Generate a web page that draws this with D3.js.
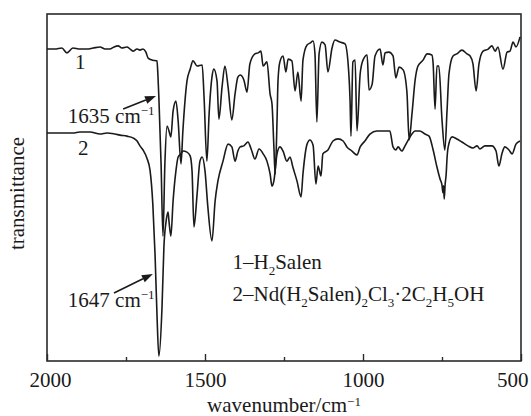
<!DOCTYPE html>
<html>
<head>
<meta charset="utf-8">
<script src="https://cdn.jsdelivr.net/npm/d3@7"></script>
<style>
  html, body { margin: 0; padding: 0; background: #fff; }
  svg { display: block; }
  text { font-family: "Liberation Serif", "Times New Roman", serif; fill: #1a1a1a; }
</style>
</head>
<body>
<svg id="chart" width="531" height="416"></svg>
<script>
// ---------- data (wavenumber cm^-1, transmittance a.u. %) ----------
const majorTicks = [2000, 1500, 1000, 500];
const minorTicks = [1750, 1250, 750];

// Curve 1: H2Salen
const curveH2Salen = [
  [2000,89.9],[1975,89.9],[1953,90.2],[1937,88.8],[1918,90.2],[1896,89.9],[1873,89.9],
  [1854,90.2],[1832,90.5],[1816,89.9],[1801,89.9],[1788,90.5],[1775,90.8],[1763,90.2],
  [1747,90.5],[1737,89.9],[1728,89.3],[1715,89.9],[1706,89.6],[1696,89.9],[1687,89.0],
  [1680,87.3],[1665,86.7],[1652,86.5],[1649,82.4],[1646,76.1],[1639,56.8],[1633,36.0],
  [1627,56.8],[1620,67.7],[1614,66.3],[1608,64.6],[1601,72.0],[1592,74.9],[1585,69.2],
  [1576,56.8],[1570,66.3],[1557,80.7],[1547,84.1],[1538,86.5],[1525,85.0],[1509,85.3],
  [1503,76.1],[1494,57.6],[1487,71.2],[1478,81.8],[1472,84.1],[1462,80.7],[1456,69.7],
  [1446,79.0],[1437,85.0],[1427,79.0],[1415,69.5],[1405,76.9],[1396,81.8],[1389,82.4],
  [1377,81.0],[1367,77.5],[1358,85.6],[1342,88.5],[1332,88.8],[1323,89.3],[1316,85.0],
  [1304,86.2],[1294,76.9],[1288,74.1],[1282,61.7],[1278,53.9],[1272,69.5],[1269,80.7],
  [1263,86.2],[1253,87.9],[1244,83.3],[1237,87.0],[1225,86.5],[1215,77.8],[1206,83.3],
  [1196,74.9],[1190,86.7],[1177,91.1],[1168,91.6],[1158,92.2],[1152,88.5],[1146,68.9],
  [1139,88.5],[1130,91.9],[1120,91.1],[1111,83.3],[1098,90.2],[1089,92.5],[1073,91.9],
  [1057,91.4],[1047,85.6],[1041,75.2],[1038,64.8],[1032,86.2],[1025,86.7],[1019,66.3],
  [1009,82.7],[1000,86.7],[987,88.2],[981,78.1],[971,79.8],[962,87.9],[946,89.9],
  [937,85.3],[930,88.8],[918,89.0],[905,87.9],[896,81.6],[886,84.7],[873,83.9],
  [861,77.5],[854,63.7],[845,71.2],[835,81.0],[826,85.0],[810,86.7],[797,88.5],
  [782,88.2],[778,85.6],[772,72.6],[766,85.0],[760,85.0],[750,69.5],[741,60.8],
  [734,72.3],[728,82.7],[715,87.9],[703,88.5],[687,89.6],[671,88.5],[661,87.9],
  [652,85.6],[642,77.8],[633,85.6],[620,89.3],[604,89.9],[592,90.8],[582,89.3],
  [573,90.5],[557,84.1],[544,89.0],[535,89.3],[525,91.9],[516,90.5],[503,93.4]
];

// Curve 2: Nd(H2Salen)2Cl3·2C2H5OH
const curveNdComplex = [
  [2000,65.7],[1959,65.7],[1918,65.7],[1896,66.0],[1864,66.0],[1832,65.4],[1810,65.7],
  [1785,65.4],[1769,65.1],[1747,64.8],[1728,64.3],[1715,63.4],[1706,62.0],[1696,60.8],
  [1684,58.5],[1674,55.0],[1665,45.0],[1658,30.5],[1652,13.5],[1646,1.4],[1636,15.6],
  [1630,32.9],[1623,40.3],[1617,42.9],[1614,40.3],[1608,36.0],[1601,46.1],[1592,54.8],
  [1585,58.8],[1576,59.7],[1570,60.5],[1557,60.2],[1547,59.1],[1541,54.8],[1535,38.6],
  [1525,48.1],[1516,57.6],[1509,58.8],[1500,54.8],[1491,44.4],[1478,34.6],[1468,46.1],
  [1459,51.9],[1443,57.6],[1427,62.5],[1415,61.7],[1405,57.6],[1396,60.5],[1389,61.7],
  [1377,62.0],[1364,63.1],[1354,61.1],[1342,58.2],[1329,61.1],[1316,59.7],[1304,57.6],
  [1294,53.9],[1288,50.4],[1282,51.9],[1272,59.7],[1263,61.7],[1253,60.5],[1241,57.6],
  [1231,58.8],[1222,55.9],[1209,51.9],[1196,47.3],[1190,53.9],[1177,62.5],[1168,63.7],
  [1158,62.2],[1149,51.0],[1142,56.2],[1133,53.3],[1127,59.7],[1111,60.8],[1095,63.4],
  [1079,64.0],[1063,63.4],[1051,61.7],[1035,60.5],[1019,59.4],[1009,61.7],[994,63.4],
  [978,65.4],[956,66.3],[937,66.3],[915,66.3],[905,61.7],[896,60.8],[889,61.7],
  [877,60.5],[867,62.0],[851,64.6],[835,66.3],[820,66.3],[804,65.4],[791,64.8],
  [778,60.8],[766,55.9],[756,52.4],[750,50.7],[747,48.5],[745,50.5],[743,46.7],
  [740,51.0],[737,53.6],[734,58.5],[731,61.4],[718,64.6],[703,64.0],[687,63.1],
  [668,62.0],[652,61.4],[639,62.0],[630,61.1],[614,62.0],[592,62.0],[579,60.5],
  [570,56.2],[560,59.9],[551,61.7],[538,60.8],[528,59.7],[516,62.5],[503,63.4]
];

// annotation arrows: [tail, tip] in (wavenumber, transmittance)
const arrow1635 = [[1759, 72.6], [1655, 76.4]];
const arrow1647 = [[1788, 19.6], [1665, 25.1]];

// ---------- layout ----------
const svg = d3.select("#chart");
const L = 47, R = 521, T = 14, B = 361;
const x = d3.scaleLinear().domain([2000, 500]).range([L, R]);
const y = d3.scaleLinear().domain([0, 100]).range([B, T]);
const ink = "#1a1a1a";
const FS = 21;

// frame
svg.append("rect")
  .attr("x", L).attr("y", T).attr("width", R - L).attr("height", B - T)
  .attr("fill", "none").attr("stroke", "#2a2a2a").attr("stroke-width", 1.6);

// bottom axis: major ticks (inward) with labels
const gx = svg.append("g").attr("transform", `translate(0,${B})`)
  .call(d3.axisBottom(x).tickValues(majorTicks).tickSizeInner(-7).tickSizeOuter(0)
        .tickPadding(11).tickFormat(d3.format("d")));
gx.select(".domain").remove();
gx.selectAll(".tick line").attr("stroke", "#2a2a2a").attr("stroke-width", 1.4);
gx.selectAll(".tick text").attr("font-size", FS).attr("font-family", null).attr("fill", ink);
gx.selectAll(".tick text").filter(d => d === 500).attr("text-anchor", "end").attr("x", 7);
gx.selectAll(".tick text").filter(d => d === 2000).attr("x", 3);

const gm = svg.append("g").attr("transform", `translate(0,${B})`)
  .call(d3.axisBottom(x).tickValues(minorTicks).tickSizeInner(-4).tickSizeOuter(0).tickFormat(""));
gm.select(".domain").remove();
gm.selectAll(".tick line").attr("stroke", "#2a2a2a").attr("stroke-width", 1.4);

// curves
const line = d3.line().x(d => x(d[0])).y(d => y(d[1])).curve(d3.curveMonotoneX);
[curveH2Salen, curveNdComplex].forEach(c => {
  svg.append("path").datum(c).attr("d", line)
    .attr("fill", "none").attr("stroke", ink).attr("stroke-width", 1.6)
    .attr("stroke-linejoin", "round");
});

// rich text helper
function rich(sel, parts, size, supRaise) {
  const small = Math.round(size * 0.62);
  let shift = 0;
  parts.forEach(([txt, kind]) => {
    let target = kind === "sub" ? size * 0.28 : kind === "sup" ? -size * (supRaise || 0.38) : 0;
    sel.append("tspan")
      .attr("dy", target - shift)
      .attr("font-size", kind === "n" ? size : small)
      .text(txt);
    shift = target;
  });
}

// axis titles
const xt = svg.append("text").attr("x", (L + R) / 2).attr("y", 412)
  .attr("text-anchor", "middle").attr("font-size", FS);
rich(xt, [["wavenumber/cm", "n"], ["\u22121", "sup"]], FS, 0.3);

svg.append("text").attr("transform", `translate(24,${(T + B) / 2 + 6}) rotate(-90)`)
  .attr("text-anchor", "middle").attr("font-size", FS).text("transmittance");

// curve labels
svg.append("text").attr("x", x(1895)).attr("y", y(84.1)).attr("text-anchor", "middle")
  .attr("font-size", FS).text("1");
svg.append("text").attr("x", x(1885)).attr("y", y(59.4)).attr("text-anchor", "middle")
  .attr("font-size", FS).text("2");

// annotations
const a1 = svg.append("text").attr("x", x(1934)).attr("y", y(68.6)).attr("font-size", FS);
rich(a1, [["1635 cm", "n"], ["\u22121", "sup"]], FS);
const a2 = svg.append("text").attr("x", x(1934)).attr("y", y(15.6)).attr("font-size", FS);
rich(a2, [["1647 cm", "n"], ["\u22121", "sup"]], FS);

function arrow(a) {
  const [x0, y0] = [x(a[0][0]), y(a[0][1])];
  const [x1, y1] = [x(a[1][0]), y(a[1][1])];
  const ang = Math.atan2(y1 - y0, x1 - x0);
  const hl = 11, hw = 4;
  const bx = x1 - hl * Math.cos(ang), by = y1 - hl * Math.sin(ang);
  svg.append("line").attr("x1", x0).attr("y1", y0).attr("x2", bx).attr("y2", by)
    .attr("stroke", ink).attr("stroke-width", 1.6);
  const px = -Math.sin(ang) * hw, py = Math.cos(ang) * hw;
  svg.append("path")
    .attr("d", `M${x1},${y1}L${bx + px},${by + py}L${bx - px},${by - py}Z`)
    .attr("fill", ink);
}
arrow(arrow1635);
arrow(arrow1647);

// legend
const l1 = svg.append("text").attr("x", x(1413)).attr("y", y(26.5)).attr("font-size", FS);
rich(l1, [["1\u2013H", "n"], ["2", "sub"], ["Salen", "n"]], FS);
const l2 = svg.append("text").attr("x", x(1413)).attr("y", y(17.3)).attr("font-size", FS);
rich(l2, [["2\u2013Nd(H", "n"], ["2", "sub"], ["Salen)", "n"], ["2", "sub"], ["Cl", "n"],
          ["3", "sub"], ["\u00b72C", "n"], ["2", "sub"], ["H", "n"], ["5", "sub"], ["OH", "n"]], FS);
</script>
</body>
</html>
